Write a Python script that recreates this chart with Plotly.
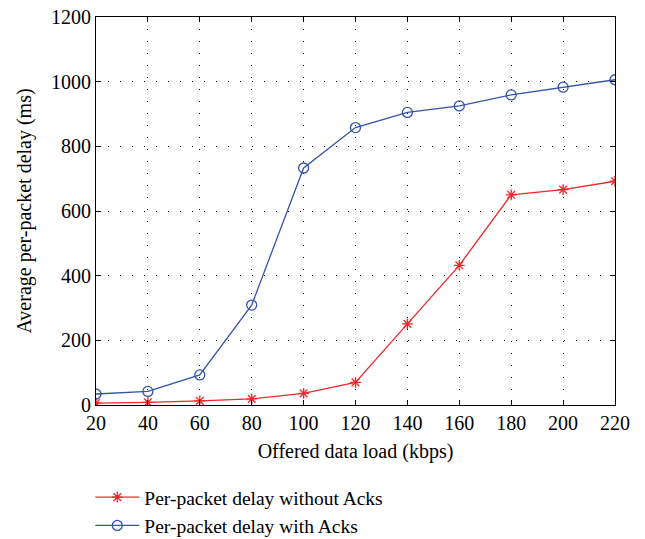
import plotly.graph_objects as go

load_kbps = [20, 40, 60, 80, 100, 120, 140, 160, 180, 200, 220]
delay_without_acks = [6, 8, 13, 19, 36, 70, 251, 432, 650, 666, 692]
delay_with_acks = [34, 42, 93, 309, 733, 858, 905, 925, 959, 983, 1006]
x_ticks = [20, 40, 60, 80, 100, 120, 140, 160, 180, 200, 220]
y_ticks = [0, 200, 400, 600, 800, 1000, 1200]

FONT = "Liberation Serif, DejaVu Serif, Times New Roman, serif"

fig = go.Figure()
fig.add_trace(go.Scatter(
    x=load_kbps, y=delay_without_acks, mode="lines+markers",
    name="Per-packet delay without Acks",
    line=dict(color="#f0282a", width=1.3),
    marker=dict(symbol="asterisk-open", size=9, color="#f0282a",
                line=dict(color="#f0282a", width=1.3)),
))
fig.add_trace(go.Scatter(
    x=load_kbps, y=delay_with_acks, mode="lines+markers",
    name="Per-packet delay with Acks",
    line=dict(color="#3454a8", width=1.3),
    marker=dict(symbol="circle-open", size=10, color="#3454a8",
                line=dict(color="#3454a8", width=1.3)),
))

axis_common = dict(
    showline=True, linecolor="black", linewidth=1.2, mirror="ticks",
    ticks="inside", ticklen=5, tickcolor="black",
    showgrid=True, gridcolor="black", gridwidth=1, griddash="1px,11px",
    zeroline=False, ticklabeloverflow="allow", automargin=False,
    tickfont=dict(family=FONT, size=20, color="black"),
)

fig.update_xaxes(
    range=[20, 220], tickvals=x_ticks,
    title=dict(text="Offered data load (kbps)", font=dict(family=FONT, size=20, color="black"), standoff=10),
    **axis_common,
)
fig.update_yaxes(
    range=[0, 1200], tickvals=y_ticks,
    title=dict(text="Average per-packet delay (ms)", font=dict(family=FONT, size=20, color="black"), standoff=13),
    **axis_common,
)

fig.update_layout(
    width=645, height=539,
    margin=dict(l=96, r=30, t=17, b=134, autoexpand=False),
    plot_bgcolor="white", paper_bgcolor="white",
    font=dict(family=FONT, color="black"),
    legend=dict(
        x=-0.011, y=-0.188, xanchor="left", yanchor="top",
        font=dict(family=FONT, size=19.5, color="black"),
        bgcolor="rgba(0,0,0,0)", tracegroupgap=0, itemwidth=44,
    ),
)

fig.write_html("out.html", config={"displayModeBar": False},
               post_script="document.body.style.margin='0';")
